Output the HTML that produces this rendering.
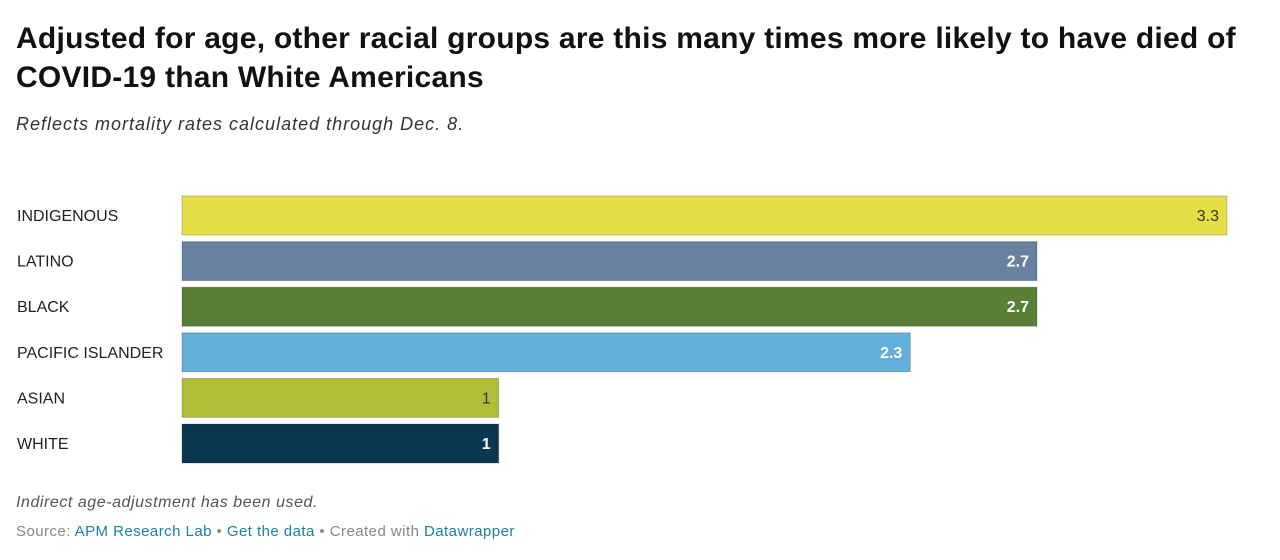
<!DOCTYPE html>
<html><head><meta charset="utf-8"><style>
body{margin:0;width:1280px;height:560px;background:#fff;font-family:"Liberation Sans",sans-serif;position:relative;overflow:hidden}
.t{position:absolute;left:16px;top:19px;font-size:30px;font-weight:bold;line-height:39px;color:#111;width:1260px;letter-spacing:0.25px}
.s{position:absolute;left:16px;top:114px;font-size:18px;font-style:italic;color:#333;letter-spacing:1px}
.n{position:absolute;left:16px;top:494px;font-size:16px;font-style:italic;color:#555;letter-spacing:0.55px}
.src{position:absolute;left:16px;top:523px;font-size:15px;color:#888;letter-spacing:0.45px}
.src span{color:#1d81a2}
</style></head><body>
<div class="t">Adjusted for age, other racial groups are this many times more likely to have died of COVID-19 than White Americans</div>
<div class="s">Reflects mortality rates calculated through Dec. 8.</div>
<svg id="c" width="1280" height="560" style="position:absolute;left:0;top:0"></svg>
<div class="n">Indirect age-adjustment has been used.</div>
<div class="src">Source: <span>APM Research Lab</span> • <span>Get the data</span> • Created with <span>Datawrapper</span></div>
<script>
const categories=["INDIGENOUS","LATINO","BLACK","PACIFIC ISLANDER","ASIAN","WHITE"];
const values=[3.3,2.7,2.7,2.3,1,1];
const labels=["3.3","2.7","2.7","2.3","1","1"];
const colors=["#e5df45","#68819e","#587f35","#62afd9","#afbd37","#08374f"];
const darkText=[true,false,false,false,true,false];
const svg=document.getElementById('c');const NS="http://www.w3.org/2000/svg";
const x=v=>182+v*(1045/3.3);
const y=i=>196+i*45.6;
categories.forEach((c,i)=>{
 const t=document.createElementNS(NS,'text');
 
 
 t.setAttribute('x',17);t.setAttribute('y',y(i)+25);t.setAttribute('font-size','16');t.setAttribute('fill','#222');
 t.textContent=c;svg.appendChild(t);
 const r=document.createElementNS(NS,'rect');
 
 
 r.setAttribute('x',182);r.setAttribute('y',y(i));r.setAttribute('width',x(values[i])-182);r.setAttribute('height',39);
 r.setAttribute('fill',colors[i]);r.setAttribute('stroke','rgba(0,0,0,0.2)');r.setAttribute('stroke-width','1');
 svg.appendChild(r);
 const v=document.createElementNS(NS,'text');
 
 
 v.setAttribute('x',x(values[i])-8);v.setAttribute('y',y(i)+25);v.setAttribute('text-anchor','end');v.setAttribute('font-size','16');
 v.setAttribute('fill',darkText[i]?'#333':'#fff');if(!darkText[i])v.setAttribute('font-weight','bold');
 v.textContent=labels[i];svg.appendChild(v);
});
</script>
</body></html>
